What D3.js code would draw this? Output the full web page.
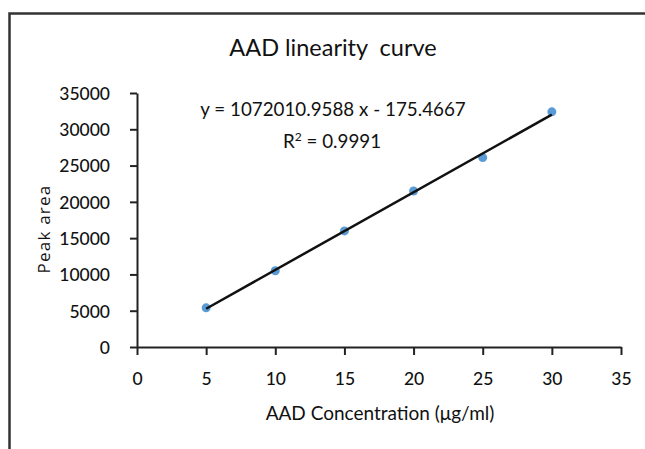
<!DOCTYPE html>
<html lang="en">
<head>
<meta charset="UTF-8">
<script src="https://cdnjs.cloudflare.com/ajax/libs/d3/7.8.5/d3.min.js"></script>
<style>
    body { margin: 0; background: #fff; }
    text { font-family: Lato, "Open Sans", sans-serif; fill: #111; }
</style>
<title>AAD linearity curve</title>
</head>
<body>
<svg id="chart" width="645" height="449"></svg>
<script>
    // data
    var concentration = [5, 10, 15, 20, 25, 30];
    var peakArea = [5400, 10500, 16000, 21500, 26100, 32400];
    var xTicks = [0, 5, 10, 15, 20, 25, 30, 35];
    var yTicks = [0, 5000, 10000, 15000, 20000, 25000, 30000, 35000];
    var equationText = 'y = 1072010.9588 x - 175.4667';
    var r2Text = ' = 0.9991';

    var svg = d3.select('#chart');

    // outer frame (runs off the right and bottom edges)
    svg.append('path')
        .attr('d', 'M9.5,460V13.5H660')
        .attr('fill', 'none')
        .attr('stroke', '#333')
        .attr('stroke-width', 2.5);

    var x = d3.scaleLinear().domain([0, 35]).range([137, 621]);
    var y = d3.scaleLinear().domain([0, 35000]).range([347, 93]);

    var xAxis = svg.append('g')
        .attr('transform', 'translate(0,347)')
        .call(d3.axisBottom(x).tickValues(xTicks).tickSize(8).tickPadding(18).tickSizeOuter(0));
    var yAxis = svg.append('g')
        .attr('transform', 'translate(137,0)')
        .call(d3.axisLeft(y).tickValues(yTicks).tickFormat(d3.format('d'))
            .tickSize(7).tickPadding(20).tickSizeOuter(0));

    [xAxis, yAxis].forEach(function (g) {
        g.select('.domain').attr('stroke', '#222').attr('stroke-width', 2);
        g.selectAll('.tick line').attr('stroke', '#222').attr('stroke-width', 2);
        g.selectAll('.tick text')
            .style('font-family', 'Lato, sans-serif')
            .style('font-size', '17.5px')
            .style('font-weight', 500)
            .attr('fill', '#111');
    });
    yAxis.selectAll('.tick text').attr('dy', '0.36em');

    // least-squares trend line through the points
    var n = concentration.length;
    var mx = d3.mean(concentration), my = d3.mean(peakArea);
    var sxy = 0, sxx = 0;
    for (var i = 0; i < n; i++) {
        sxy += (concentration[i] - mx) * (peakArea[i] - my);
        sxx += (concentration[i] - mx) * (concentration[i] - mx);
    }
    var slope = sxy / sxx, intercept = my - slope * mx;
    var x0 = d3.min(concentration), x1 = d3.max(concentration);

    svg.append('g').selectAll('circle')
        .data(concentration)
        .enter().append('circle')
        .attr('cx', function (d) { return x(d); })
        .attr('cy', function (d, i) { return y(peakArea[i]); })
        .attr('r', 4.5)
        .attr('fill', '#5b9bd5');

    svg.append('line')
        .attr('x1', x(x0)).attr('y1', y(slope * x0 + intercept))
        .attr('x2', x(x1)).attr('y2', y(slope * x1 + intercept))
        .attr('stroke', '#111')
        .attr('stroke-width', 2.5);

    // titles
    svg.append('text')
        .attr('x', 333).attr('y', 56)
        .attr('text-anchor', 'middle')
        .style('font-size', '23.5px')
        .style('white-space', 'pre')
        .text('AAD linearity  curve');

    svg.append('text')
        .attr('x', 380).attr('y', 420)
        .attr('text-anchor', 'middle')
        .style('font-size', '19px')
        .text('AAD Concentration (\u03bcg/ml)');

    svg.append('text')
        .attr('transform', 'translate(50,229) rotate(-90)')
        .attr('text-anchor', 'middle')
        .style('font-family', '"Open Sans", sans-serif')
        .style('font-size', '17px')
        .style('letter-spacing', '1.2px')
        .text('Peak area');

    // trend line label
    svg.append('text')
        .attr('x', 333).attr('y', 116)
        .attr('text-anchor', 'middle')
        .style('font-size', '18.8px')
        .text(equationText);

    var r2 = svg.append('text')
        .attr('x', 332).attr('y', 148)
        .attr('text-anchor', 'middle')
        .style('font-size', '18.8px');
    r2.append('tspan').text('R');
    r2.append('tspan').attr('dy', -7).style('font-size', '12px').text('2');
    r2.append('tspan').attr('dy', 7).text(r2Text);
</script>
</body>
</html>
